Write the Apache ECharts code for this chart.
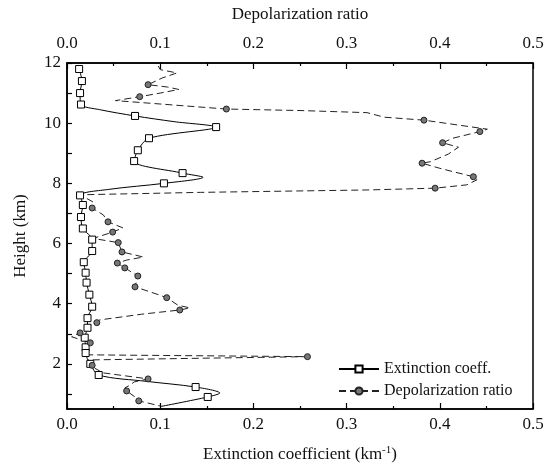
<!DOCTYPE html>
<html>
<head>
<meta charset="utf-8">
<script src="https://cdn.jsdelivr.net/npm/echarts@6/dist/echarts.min.js"></script>
<style>
  html, body { margin: 0; padding: 0; background: #fff; }
  #chart { width: 558px; height: 471px; }
</style>
</head>
<body>
<div id="chart"></div>
<script>
// extinction coefficient profile (km^-1), heights in km
const extHeight = [11.8, 11.4, 11.0, 10.62, 10.45, 10.24, 10.05, 9.87, 9.5, 9.1, 8.74, 8.34, 8.2, 8.0, 7.8, 7.6, 7.28, 6.88, 6.5, 6.13, 5.75, 5.38, 5.03, 4.7, 4.3, 3.9, 3.52, 3.2, 2.87, 2.55, 2.36, 2.0, 1.63, 1.42, 1.23, 1.03, 0.9, 0.58]
const extValue = [0.013, 0.016, 0.014, 0.015, 0.035, 0.073, 0.115, 0.160, 0.088, 0.076, 0.072, 0.124, 0.146, 0.104, 0.045, 0.014, 0.017, 0.015, 0.017, 0.027, 0.027, 0.018, 0.020, 0.021, 0.024, 0.027, 0.022, 0.022, 0.019, 0.020, 0.020, 0.025, 0.034, 0.085, 0.138, 0.164, 0.151, 0.100]
const extMarked = [1, 1, 1, 1, 0, 1, 0, 1, 1, 1, 1, 1, 0, 1, 0, 1, 1, 1, 1, 1, 1, 1, 1, 1, 1, 1, 1, 1, 1, 1, 1, 1, 1, 0, 1, 0, 1, 0]

// depolarization ratio profile
const depHeight = [11.9, 11.78, 11.67, 11.5, 11.28, 11.2, 11.12, 11.0, 10.88, 10.75,
  10.47, 10.42, 10.35, 10.2, 10.1, 9.8, 9.72, 9.5, 9.35, 9.2,
  8.97, 8.72, 8.67, 8.5, 8.22, 8.12, 7.95, 7.84, 7.78, 7.7,
  7.62, 7.38, 7.18, 6.95, 6.72, 6.52, 6.38, 6.17, 6.03, 5.72,
  5.55, 5.45, 5.35, 5.19, 4.92, 4.56, 4.3, 4.2, 3.95, 3.86,
  3.79, 3.65, 3.46, 3.37, 3.2, 3.03, 2.9, 2.7, 2.45, 2.3,
  2.24, 2.13, 1.95, 1.85, 1.7, 1.5, 1.4, 1.3, 1.2, 1.1,
  0.9, 0.77, 0.6]
const depValue = [0.098, 0.100, 0.118, 0.102, 0.087, 0.108, 0.120, 0.100, 0.078, 0.052,
  0.171, 0.250, 0.322, 0.340, 0.383, 0.451, 0.443, 0.414, 0.403, 0.420,
  0.409, 0.390, 0.381, 0.400, 0.436, 0.440, 0.429, 0.395, 0.322, 0.143,
  0.014, 0.028, 0.027, 0.039, 0.044, 0.060, 0.049, 0.028, 0.055, 0.059,
  0.082, 0.064, 0.054, 0.062, 0.076, 0.073, 0.098, 0.107, 0.119, 0.132,
  0.121, 0.080, 0.035, 0.032, 0.020, 0.014, 0.005, 0.025, 0.020, 0.022,
  0.258, 0.022, 0.027, 0.030, 0.039, 0.087, 0.072, 0.068, 0.062, 0.064,
  0.073, 0.077, 0.100]
const depMarkedIdx = [4, 8, 10, 14, 16, 18, 22, 24, 27, 32, 34, 36, 38, 39, 42, 43, 44, 45, 47, 50, 53, 55, 57, 60, 62, 65, 69, 71]

const heightLabels = [2, 4, 6, 8, 10, 12]
const heightTicks = [1, 2, 3, 4, 5, 6, 7, 8, 9, 10, 11, 12]

const FONT = 'Liberation Serif'

const extData = extHeight.map((h, i) => {
  let item = { value: [extValue[i], h] }
  if (!extMarked[i]) item.symbol = 'none'
  return item
})
const depData = depHeight.map((h, i) => {
  let item = { value: [depValue[i], h] }
  if (depMarkedIdx.indexOf(i) < 0) item.symbol = 'none'
  return item
})

function xAxisBase(pos, margin) {
  return {
    type: 'value',
    position: pos,
    min: 0,
    max: 0.5,
    interval: 0.1,
    axisLine: { show: true, lineStyle: { color: '#000', width: 1.5 } },
    axisTick: { show: true, inside: true, length: 6, lineStyle: { color: '#000', width: 1.2 } },
    minorTick: { show: true, splitNumber: 2, length: 3, lineStyle: { color: '#000', width: 1.2 } },
    splitLine: { show: false },
    axisLabel: {
      color: '#111',
      fontFamily: FONT,
      fontSize: 17,
      margin: margin,
      formatter: v => v.toFixed(1)
    }
  }
}

let myChart = echarts.init(document.getElementById('chart'))
myChart.setOption({
  animation: false,
  backgroundColor: '#fff',
  grid: {
    left: 67,
    right: 25,
    top: 63,
    bottom: 62,
    show: true,
    borderColor: '#000',
    borderWidth: 1.5
  },
  legend: {
    orient: 'vertical',
    left: 333,
    top: 356,
    itemWidth: 40,
    itemHeight: 9,
    itemGap: 6,
    textStyle: { fontFamily: FONT, fontSize: 16, color: '#111' },
    data: ['Extinction coeff.', 'Depolarization ratio']
  },
  xAxis: [
    Object.assign(xAxisBase('bottom', 7), {
      name: 'Extinction coefficient (km{s|-1}{n|)}',
      nameLocation: 'middle',
      nameGap: 36,
      nameTextStyle: {
        fontFamily: FONT,
        fontSize: 17,
        color: '#111',
        rich: {
          s: { fontFamily: FONT, fontSize: 11, color: '#111', verticalAlign: 'top', padding: [0, 0, 8, 0] },
          n: { fontFamily: FONT, fontSize: 17, color: '#111' }
        }
      }
    }),
    Object.assign(xAxisBase('top', 11), {
      name: 'Depolarization ratio',
      nameLocation: 'middle',
      nameGap: 40,
      nameTextStyle: { fontFamily: FONT, fontSize: 17, color: '#111' }
    })
  ],
  yAxis: [
    {
      type: 'value',
      min: 0.5,
      max: 12,
      name: 'Height (km)',
      nameLocation: 'middle',
      nameGap: 38,
      nameTextStyle: { fontFamily: FONT, fontSize: 17, color: '#111' },
      axisLine: { show: true, lineStyle: { color: '#000', width: 1.5 } },
      axisTick: {
        show: true,
        inside: true,
        length: 5,
        customValues: heightTicks,
        lineStyle: { color: '#000', width: 1.2 }
      },
      splitLine: { show: false },
      axisLabel: {
        customValues: heightLabels,
        color: '#111',
        fontFamily: FONT,
        fontSize: 17,
        margin: 6
      }
    }
  ],
  series: [
    {
      name: 'Extinction coeff.',
      type: 'line',
      xAxisIndex: 0,
      yAxisIndex: 0,
      smooth: 0.3,
      symbol: 'rect',
      symbolSize: 7,
      showAllSymbol: true,
      color: '#000',
      lineStyle: { color: '#000', width: 1 },
      itemStyle: { color: '#fff', borderColor: '#000', borderWidth: 1 },
      data: extData
    },
    {
      name: 'Depolarization ratio',
      type: 'line',
      xAxisIndex: 1,
      yAxisIndex: 0,
      symbol: 'circle',
      symbolSize: 6,
      showAllSymbol: true,
      color: '#333',
      lineStyle: { color: '#222', width: 1, type: [7, 4] },
      itemStyle: { color: '#777', borderColor: '#222', borderWidth: 1 },
      data: depData
    }
  ]
})
</script>
</body>
</html>
